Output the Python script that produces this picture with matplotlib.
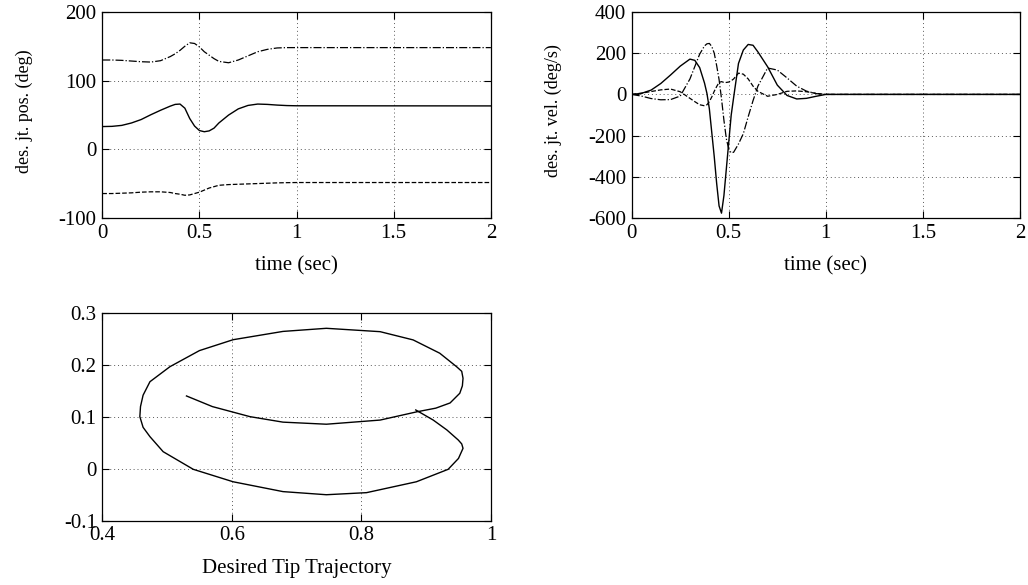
import matplotlib
matplotlib.use("Agg")
import matplotlib.pyplot as plt

plt.rcParams['font.family'] = ['Liberation Serif', 'DejaVu Serif']
plt.rcParams['font.size'] = 15
plt.rcParams['axes.unicode_minus'] = False

# desired joint positions (deg)
t_pos = [0, 0.05, 0.1, 0.15, 0.2, 0.25, 0.3, 0.35, 0.375, 0.4, 0.425, 0.45, 0.475,
         0.5, 0.525, 0.55, 0.575, 0.6, 0.65, 0.7, 0.75, 0.8, 0.85, 0.9, 0.95, 1.0, 2.0]
pos_j1 = [33.3, 33.6, 35, 38.5, 43.5, 50.5, 57, 63, 65.5, 66, 60, 45, 34,
          27.5, 25.8, 27, 31, 38.5, 50, 59, 64, 66, 65.5, 64.5, 63.8, 63.5, 63.3]
pos_j2 = [130, 130, 129.5, 128.5, 127.5, 127, 129, 135, 139, 144, 150, 155, 154,
          149, 142, 137, 132, 128, 126, 130, 136, 142, 145.5, 147.5, 148, 148, 148]
pos_j3 = [-64, -64, -63.5, -63, -62, -61.5, -61.5, -62.5, -64, -65, -66.5, -66, -64,
          -62, -59, -56, -54, -52, -51, -50.5, -50, -49.5, -49, -48.5, -48.2, -48, -48]

# desired joint velocities (deg/s)
t_vel = [0, 0.05, 0.1, 0.15, 0.2, 0.25, 0.3, 0.325, 0.35, 0.375, 0.3875, 0.4, 0.4125,
         0.425, 0.4375, 0.45, 0.4625, 0.475, 0.4875, 0.5, 0.5125, 0.525, 0.55, 0.575,
         0.6, 0.625, 0.65, 0.7, 0.75, 0.8, 0.85, 0.9, 0.95, 1.0, 2.0]
vel_j1 = [0, 5, 21, 53, 94, 137, 171, 165, 130, 55, 5, -70, -185,
          -300, -430, -540, -575, -490, -360, -230, -100, -15, 150, 215,
          242, 238, 206, 134, 45, -5, -22, -19, -9, 0, 0]
vel_j2 = [0, -8, -20, -26, -25, -8, 75, 135, 195, 235, 245, 247, 232,
          200, 140, 72, -20, -125, -215, -265, -283, -280, -240, -190,
          -108, -30, 40, 128, 118, 80, 40, 16, 4, 0, 0]
vel_j3 = [0, 6, 14, 22, 26, 13, -19, -35, -50, -55, -50, -35, -12,
          15, 38, 58, 62, 58, 58, 60, 66, 75, 103, 98,
          75, 40, 15, -9, 0, 15, 17, 13, 5, 0, 0]

# desired tip trajectory
tip_x = [0.530, 0.570, 0.628, 0.679, 0.746, 0.829, 0.886, 0.915, 0.937, 0.952,
         0.956, 0.957, 0.955, 0.947, 0.921, 0.880, 0.829, 0.746, 0.679, 0.602,
         0.550, 0.5045, 0.4736, 0.463, 0.459, 0.458, 0.463, 0.4736, 0.494, 0.5405,
         0.602, 0.679, 0.746, 0.808, 0.885, 0.934, 0.950, 0.957, 0.955, 0.9496,
         0.932, 0.911, 0.884]
tip_y = [0.1405, 0.120, 0.1006, 0.090, 0.086, 0.094, 0.110, 0.117, 0.127, 0.1457,
         0.160, 0.1746, 0.188, 0.197, 0.223, 0.2486, 0.2645, 0.271, 0.265, 0.249,
         0.228, 0.197, 0.168, 0.142, 0.120, 0.1006, 0.080, 0.062, 0.033, -0.001,
         -0.025, -0.044, -0.050, -0.046, -0.025, -0.001, 0.020, 0.0395, 0.048, 0.0556,
         0.075, 0.094, 0.1135]

time_ticks = [0, 0.5, 1, 1.5, 2]
time_labels = ['0', '0.5', '1', '1.5', '2']
pos_ticks = [-100, 0, 100, 200]
pos_labels = ['-100', '0', '100', '200']
vel_ticks = [-600, -400, -200, 0, 200, 400]
vel_labels = ['-600', '-400', '-200', '0', '200', '400']
tx_ticks = [0.4, 0.6, 0.8, 1.0]
tx_labels = ['0.4', '0.6', '0.8', '1']
ty_ticks = [-0.1, 0, 0.1, 0.2, 0.3]
ty_labels = ['-0.1', '0', '0.1', '0.2', '0.3']


def style(ax):
    ax.grid(True, linestyle=(0, (1, 3)), color='0.35', linewidth=0.7)
    ax.tick_params(direction='in', top=True, right=True, length=5, width=0.8, pad=4,
                   labelsize=15)
    for s in ax.spines.values():
        s.set_linewidth(0.9)


fig = plt.figure(figsize=(10.28, 5.85), dpi=100)

ax1 = fig.add_axes([0.0995, 0.6268, 0.378, 0.353])
ax1.plot(t_pos, pos_j1, 'k-', lw=1)
ax1.plot(t_pos, pos_j2, 'k-.', lw=0.9)
ax1.plot(t_pos, pos_j3, 'k--', lw=0.9)
ax1.set_xlim(0, 2)
ax1.set_ylim(-100, 200)
ax1.set_xticks(time_ticks, time_labels)
ax1.set_yticks(pos_ticks, pos_labels)
ax1.set_xlabel('time (sec)', fontsize=15)
ax1.set_ylabel('des. jt. pos. (deg)', fontsize=13)
ax1.xaxis.set_label_coords(0.5, -0.185)
ax1.yaxis.set_label_coords(-0.178, 0.52)
style(ax1)

ax2 = fig.add_axes([0.6145, 0.6268, 0.3777, 0.353])
ax2.plot(t_vel, vel_j1, 'k-', lw=1)
ax2.plot(t_vel, vel_j2, 'k-.', lw=0.9)
ax2.plot(t_vel, vel_j3, 'k--', lw=0.9)
ax2.set_xlim(0, 2)
ax2.set_ylim(-600, 400)
ax2.set_xticks(time_ticks, time_labels)
ax2.set_yticks(vel_ticks, vel_labels)
ax2.set_xlabel('time (sec)', fontsize=15)
ax2.set_ylabel('des. jt. vel. (deg/s)', fontsize=13)
ax2.xaxis.set_label_coords(0.5, -0.185)
ax2.yaxis.set_label_coords(-0.18, 0.52)
style(ax2)

ax3 = fig.add_axes([0.0995, 0.110, 0.378, 0.3545])
ax3.plot(tip_x, tip_y, 'k-', lw=1)
ax3.set_xlim(0.4, 1.0)
ax3.set_ylim(-0.1, 0.3)
ax3.set_xticks(tx_ticks, tx_labels)
ax3.set_yticks(ty_ticks, ty_labels)
ax3.set_xlabel('Desired Tip Trajectory', fontsize=15)
ax3.xaxis.set_label_coords(0.5, -0.185)
style(ax3)

fig.savefig('out.png', dpi=100)
